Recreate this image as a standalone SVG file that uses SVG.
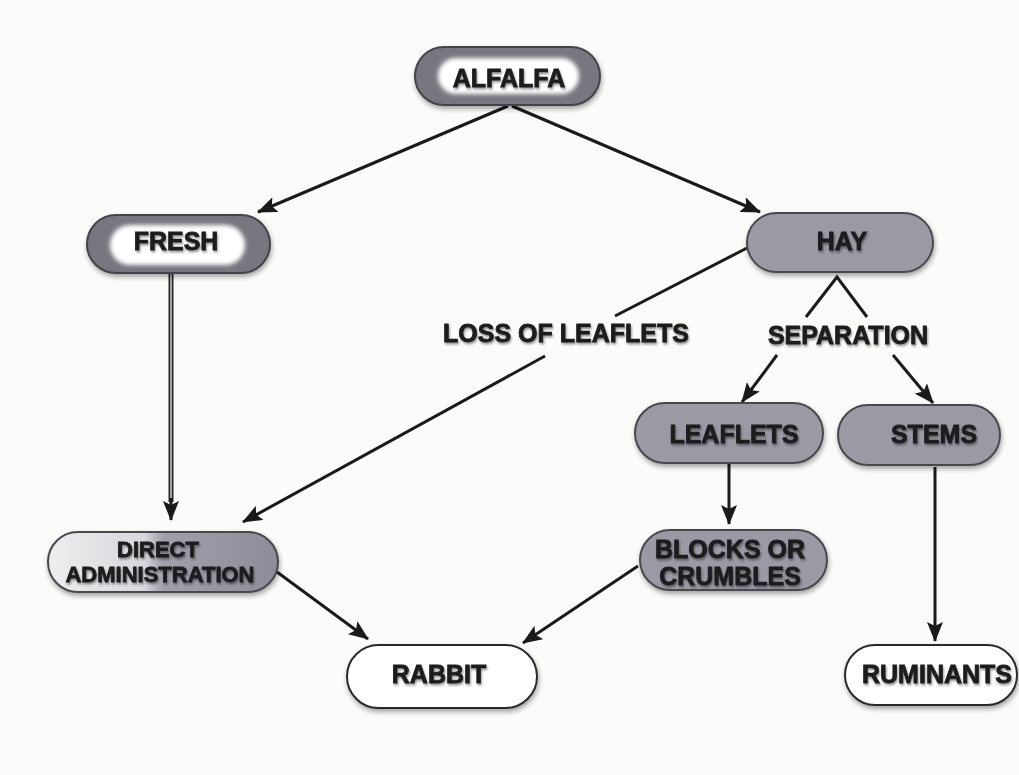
<svg xmlns="http://www.w3.org/2000/svg" width="1019" height="775" viewBox="0 0 1019 775">
<defs>
<style>
.t{font-family:"Liberation Sans",Arial,sans-serif;font-weight:bold;font-size:25px;fill:#1c1c1e;stroke:#1c1c1e;stroke-width:0.8;text-anchor:middle;}
.gray{fill:#9c98a4;stroke:#4a484e;stroke-width:2;}
.dark{fill:#78767e;stroke:#444248;stroke-width:2;}
.white{fill:#ffffff;stroke:#2a2a2c;stroke-width:2;}
.ln{stroke:#1a1a1a;stroke-width:3;fill:none;}
.arr{stroke:#1a1a1a;stroke-width:3;fill:none;marker-end:url(#ah);}
</style>
<marker id="ah" markerUnits="userSpaceOnUse" markerWidth="20" markerHeight="16" refX="19" refY="8" orient="auto">
<path d="M0,0 L20,8 L0,16 L4,8 z" fill="#1a1a1a"/>
</marker>
<filter id="sh" x="-10%" y="-20%" width="120%" height="150%">
<feGaussianBlur in="SourceAlpha" stdDeviation="2.5"/>
<feOffset dx="1" dy="3" result="b"/>
<feComponentTransfer><feFuncA type="linear" slope="0.35"/></feComponentTransfer>
<feMerge><feMergeNode/><feMergeNode in="SourceGraphic"/></feMerge>
</filter>
<filter id="soft" x="-10%" y="-30%" width="120%" height="160%">
<feGaussianBlur stdDeviation="2.2"/>
</filter>
<filter id="ts" x="-5%" y="-20%" width="110%" height="150%">
<feGaussianBlur in="SourceAlpha" stdDeviation="1.2"/>
<feOffset dx="1" dy="1.5"/>
<feComponentTransfer><feFuncA type="linear" slope="0.4"/></feComponentTransfer>
<feMerge><feMergeNode/><feMergeNode in="SourceGraphic"/></feMerge>
</filter>
<linearGradient id="dg" x1="0" y1="0" x2="1" y2="0">
<stop offset="0" stop-color="#eeeef0"/>
<stop offset="0.42" stop-color="#d8d7dc"/>
<stop offset="0.5" stop-color="#a29eaa"/>
<stop offset="1" stop-color="#8f8b98"/>
</linearGradient>
</defs>
<rect width="1019" height="775" fill="#fbfbf9"/>

<g id="connectors">
<line class="arr" x1="508" y1="106" x2="258" y2="212"/>
<line class="arr" x1="512" y1="106" x2="760" y2="212"/>
<line x1="171" y1="273" x2="171" y2="502" stroke="#2a2a2c" stroke-width="5"/>
<line x1="171" y1="273" x2="171" y2="500" stroke="#c8c8cc" stroke-width="1.5"/>
<line class="arr" x1="171" y1="498" x2="171" y2="520"/>
<line class="ln" x1="747" y1="248" x2="615" y2="316"/>
<line class="arr" x1="545" y1="356" x2="243" y2="522"/>
<polyline class="ln" points="806,317 837,277 867,317"/>
<line class="arr" x1="777" y1="355" x2="742" y2="402"/>
<line class="arr" x1="893" y1="355" x2="933" y2="403"/>
<line class="arr" x1="729" y1="464" x2="729" y2="524"/>
<line class="arr" x1="935" y1="467" x2="935" y2="641"/>
<line class="arr" x1="277" y1="572" x2="368" y2="639"/>
<line class="arr" x1="638" y1="566" x2="523" y2="643"/>
</g>

<g id="label-loss">
<text class="t" x="566" y="342" filter="url(#ts)">LOSS OF LEAFLETS</text>
</g>
<g id="label-separation">
<text class="t" x="848" y="344" filter="url(#ts)">SEPARATION</text>
</g>

<g id="alfalfa">
<rect class="dark" x="415" y="47" width="185" height="58" rx="29" filter="url(#sh)"/>
<rect x="438" y="58" width="141" height="36" rx="18" fill="#ffffff" filter="url(#soft)"/>
<text class="t" x="509" y="87" filter="url(#ts)">ALFALFA</text>
</g>

<g id="fresh">
<rect class="dark" x="87" y="215" width="183" height="58" rx="29" filter="url(#sh)"/>
<rect x="110" y="225" width="135" height="40" rx="20" fill="#ffffff" filter="url(#soft)"/>
<text class="t" x="176" y="250" filter="url(#ts)">FRESH</text>
</g>

<g id="hay">
<rect class="gray" x="747" y="213" width="186" height="59" rx="29.5" filter="url(#sh)"/>
<text class="t" x="842" y="250" filter="url(#ts)">HAY</text>
</g>

<g id="leaflets">
<rect class="gray" x="635" y="403" width="188" height="60" rx="30" filter="url(#sh)"/>
<text class="t" x="734" y="443" filter="url(#ts)">LEAFLETS</text>
</g>

<g id="stems">
<rect class="gray" x="838" y="405" width="162" height="60" rx="30" filter="url(#sh)"/>
<text class="t" x="934" y="443" filter="url(#ts)">STEMS</text>
</g>

<g id="direct-administration">
<rect x="48" y="532" width="230" height="60" rx="30" fill="url(#dg)" stroke="#4a484e" stroke-width="2" filter="url(#sh)"/>
<text class="t" x="158" y="557" style="font-size:22px" filter="url(#ts)">DIRECT</text>
<text class="t" x="160" y="582" style="font-size:22px" filter="url(#ts)">ADMINISTRATION</text>
</g>

<g id="blocks-or-crumbles">
<rect class="gray" x="640" y="530" width="187" height="60" rx="30" filter="url(#sh)"/>
<text class="t" x="730" y="558" filter="url(#ts)">BLOCKS OR</text>
<text class="t" x="730" y="585" filter="url(#ts)">CRUMBLES</text>
</g>

<g id="rabbit">
<rect class="white" x="347" y="645" width="190" height="63" rx="31.5" filter="url(#sh)"/>
<text class="t" x="439" y="683" filter="url(#ts)">RABBIT</text>
</g>

<g id="ruminants">
<rect class="white" x="845" y="645" width="172" height="60" rx="30" filter="url(#sh)"/>
<text class="t" x="937" y="683" filter="url(#ts)">RUMINANTS</text>
</g>
</svg>
